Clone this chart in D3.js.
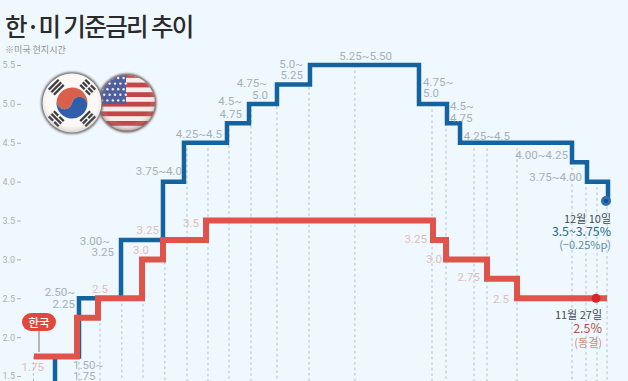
<!DOCTYPE html>
<html>
<head>
<meta charset="utf-8">
<script src="https://cdn.jsdelivr.net/npm/d3@7"></script>
<style>
  html, body { margin: 0; padding: 0; background: #eff8fe; }
  svg { display: block; }
  text { font-family: Roboto, "Noto Sans CJK KR", sans-serif; }
  .ko { font-family: "Noto Sans CJK KR", sans-serif; }
</style>
</head>
<body>
<svg width="628" height="381"></svg>
<script>
// position along the timeline (0-100), the x axis has no dates
const fedPos = [3.66, 3.66, 7.84, 15.16, 22.47, 26.13, 33.62, 37.46, 42.33, 48.08, 67.07, 71.95, 74.22, 93.73, 96.34, 100];
const fedUpper = [1.0, 1.75, 2.5, 3.25, 4.0, 4.5, 4.75, 5.0, 5.25, 5.5, 5.0, 4.75, 4.5, 4.25, 4.0, 3.75];
const krPos = [0, 7.49, 11.15, 18.82, 22.47, 29.97, 69.51, 71.78, 78.92, 84.15, 99.83];
const krRate = [1.75, 2.25, 2.5, 3.0, 3.25, 3.5, 3.25, 3.0, 2.75, 2.5, 2.5];

// dotted guides: where they sit and the rate they reach up to
const guidePos = [-0.1, 7.84, 11.5, 15.3, 18.99, 22.8, 26.65, 30.31, 33.97, 37.8, 42.33, 47.91, 55.9, 69.34, 71.78, 76.66, 78.92, 84.15, 93.73, 96.17, 98.08, 99.83];
const guideTop = [1.75, 1.75, 2.25, 2.5, 2.5, 3.25, 4.5, 4.5, 4.75, 5.0, 5.25, 5.5, 5.5, 5.0, 4.75, 4.5, 4.5, 4.5, 4.25, 4.0, 4.0, 3.75];

const yTicks = [1.5, 2.0, 2.5, 3.0, 3.5, 4.0, 4.5, 5.0, 5.5];

const fedLabels = ["1.50~", "1.75", "2.50~", "2.25", "3.00~", "3.25", "3.75~4.0", "4.25~4.5", "4.5~", "4.75", "4.75~", "5.0", "5.0~", "5.25", "5.25~5.50", "4.75~", "5.0", "4.5~", "4.75", "4.25~4.5", "4.00~4.25", "3.75~4.00"];
const krLabels = ["1.75", "2.5", "3.0", "3.25", "3.5", "3.25", "3.0", "2.75", "2.5"];

const svg = d3.select("svg");
const width = 628;
const height = 381;

const x = d3.scaleLinear().domain([0, 100]).range([34, 608]);
const y = d3.scaleLinear().domain([1.5, 5.5]).range([376, 65]);

const line = d3.line()
  .x((d) => x(d[0]))
  .y((d) => y(d[1]))
  .curve(d3.curveStepAfter);

svg.append("rect").attr("width", width).attr("height", height).attr("fill", "#eff8fe");

// title
svg.append("text").attr("class", "ko").attr("x", 5).attr("y", 36)
  .attr("font-size", 24.5).attr("font-weight", 500).attr("fill", "#2b2b2b")
  .attr("letter-spacing", -1.6)
  .text("한·미 기준금리 추이");
svg.append("text").attr("class", "ko").attr("x", 5).attr("y", 53)
  .attr("font-size", 9).attr("fill", "#8b9296").text("※미국 현지시간");

// y axis
const yAxis = d3.axisLeft(y).tickValues(yTicks).tickSize(4).tickPadding(2).tickFormat(d3.format(".1f"));
const axisG = svg.append("g").attr("transform", "translate(21,0)").call(yAxis);
axisG.select(".domain").remove();
axisG.selectAll("line").attr("stroke", "#aab3b8");
axisG.selectAll("text").attr("font-size", 9).attr("fill", "#a9b2b7").attr("font-family", "Roboto");

// guides
svg.append("g").selectAll("line")
  .data(guidePos)
  .enter()
  .append("line")
  .attr("x1", (d) => x(d))
  .attr("x2", (d) => x(d))
  .attr("y1", (d, i) => y(guideTop[i]))
  .attr("y2", height)
  .attr("stroke", "#b4bdc2")
  .attr("stroke-width", 1)
  .attr("stroke-dasharray", "2.5 3");

// flags
const defs = svg.append("defs");
defs.append("clipPath").attr("id", "usClip").append("circle").attr("cx", 127).attr("cy", 103).attr("r", 28);
const gloss = defs.append("radialGradient").attr("id", "gloss").attr("cx", "50%").attr("cy", "45%").attr("r", "55%");
gloss.append("stop").attr("offset", "75%").attr("stop-color", "#fff").attr("stop-opacity", 0);
gloss.append("stop").attr("offset", "100%").attr("stop-color", "#3a2a2a").attr("stop-opacity", 0.4);
const blur = defs.append("filter").attr("id", "soft").attr("x", "-20%").attr("y", "-20%").attr("width", "140%").attr("height", "140%");
blur.append("feGaussianBlur").attr("stdDeviation", 1.2);

const us = svg.append("g");
us.append("circle").attr("cx", 127).attr("cy", 103).attr("r", 29.5).attr("fill", "#6b5a5a").attr("filter", "url(#soft)");
const usIn = us.append("g").attr("clip-path", "url(#usClip)");
usIn.append("rect").attr("x", 98).attr("y", 74).attr("width", 58).attr("height", 58).attr("fill", "#f6ecea");
d3.range(7).forEach((i) => {
  usIn.append("rect").attr("x", 98).attr("y", 73 + i * 9.6).attr("width", 58).attr("height", 4.8)
    .attr("fill", "#c0464a");
});
usIn.append("rect").attr("x", 98).attr("y", 74).attr("width", 28).attr("height", 30).attr("fill", "#4f5f9c");
d3.range(5).forEach((r) => {
  d3.range(5).forEach((c) => {
    usIn.append("circle").attr("cx", 102 + c * 5.4 + (r % 2) * 2.2).attr("cy", 78 + r * 5.6).attr("r", 1.2).attr("fill", "#eef0f6");
  });
});
us.append("circle").attr("cx", 127).attr("cy", 103).attr("r", 28).attr("fill", "url(#gloss)");

const kr = svg.append("g");
kr.append("circle").attr("cx", 72).attr("cy", 103).attr("r", 31).attr("fill", "#6a6a6a").attr("filter", "url(#soft)");
kr.append("circle").attr("cx", 72).attr("cy", 103).attr("r", 29.5).attr("fill", "#fbf8f6");
const taegeuk = kr.append("g").attr("transform", "rotate(12 72 103)");
taegeuk.append("path").attr("fill", "#d9604c")
  .attr("d", "M56.5 103 A15.5 15.5 0 0 1 87.5 103 A7.75 7.75 0 0 0 72 103 A7.75 7.75 0 0 1 56.5 103 Z");
taegeuk.append("path").attr("fill", "#2f5fa8")
  .attr("d", "M56.5 103 A15.5 15.5 0 0 0 87.5 103 A7.75 7.75 0 0 0 72 103 A7.75 7.75 0 0 1 56.5 103 Z");
[[-45, [1, 1, 1]], [45, [2, 2, 2]], [135, [1, 2, 1]], [-135, [2, 1, 2]]].forEach(([deg, bars]) => {
  const g = kr.append("g").attr("transform", `translate(72,103) rotate(${deg})`);
  bars.forEach((n, i) => {
    const yy = -27 + i * 3.6;
    if (n === 1) {
      g.append("rect").attr("x", -7).attr("y", yy).attr("width", 14).attr("height", 2.3).attr("fill", "#3d3d40");
    } else {
      g.append("rect").attr("x", -7).attr("y", yy).attr("width", 6.2).attr("height", 2.3).attr("fill", "#3d3d40");
      g.append("rect").attr("x", 0.8).attr("y", yy).attr("width", 6.2).attr("height", 2.3).attr("fill", "#3d3d40");
    }
  });
});
kr.append("circle").attr("cx", 72).attr("cy", 103).attr("r", 29.5).attr("fill", "url(#gloss)").attr("opacity", 0.5);

// rate lines
svg.append("path")
  .datum(fedPos.map((p, i) => [p, fedUpper[i]]))
  .attr("d", line)
  .attr("fill", "none")
  .attr("stroke", "#14639f")
  .attr("stroke-width", 4.5);
svg.append("path")
  .datum(krPos.map((p, i) => [p, krRate[i]]))
  .attr("d", line)
  .attr("fill", "none")
  .attr("stroke", "#e0534a")
  .attr("stroke-width", 6);

// end dots
svg.append("circle").attr("cx", x(99.65)).attr("cy", y(3.75)).attr("r", 5).attr("fill", "#2f6fae");
svg.append("circle").attr("cx", x(99.65)).attr("cy", y(3.75)).attr("r", 2).attr("fill", "#0e4c8c");
svg.append("circle").attr("cx", x(97.91)).attr("cy", y(2.5)).attr("r", 4.5).attr("fill", "#d5262c");

// step labels, anchor x and baseline in px
const fedLabelXY = [[73, 369], [73, 380], [75, 296], [75, 308], [110, 245], [114, 256], [182, 175], [222, 138], [242, 105], [242, 118], [267, 87], [268, 99], [303, 68], [303, 79], [392, 60], [423, 86], [423, 97], [450, 110], [450, 122], [510, 140], [568, 159], [582, 181]];
const fedStart = [0, 1, 15, 16, 17, 18];
svg.append("g").selectAll("text")
  .data(fedLabels)
  .enter()
  .append("text")
  .attr("x", (d, i) => fedLabelXY[i][0])
  .attr("y", (d, i) => fedLabelXY[i][1])
  .attr("text-anchor", (d, i) => (fedStart.includes(i) ? "start" : "end"))
  .attr("font-size", 11.5)
  .attr("fill", "#a3b1ba")
  .text((d) => d);

const krLabelXY = [[44, 371], [108, 293], [149, 254], [159, 234], [199, 227], [427, 243], [442, 263], [480, 281], [509, 303]];
svg.append("g").selectAll("text")
  .data(krLabels)
  .enter()
  .append("text")
  .attr("x", (d, i) => krLabelXY[i][0])
  .attr("y", (d, i) => krLabelXY[i][1])
  .attr("text-anchor", "end")
  .attr("font-size", 11.5)
  .attr("fill", "#e2bdb8")
  .text((d) => d);

// korea badge
svg.append("line").attr("x1", 39).attr("x2", 39).attr("y1", 330).attr("y2", 352).attr("stroke", "#777");
svg.append("rect").attr("x", 22).attr("y", 313).attr("width", 34).attr("height", 18).attr("rx", 9).attr("fill", "#e0483c");
svg.append("text").attr("class", "ko").attr("x", 39).attr("y", 326.5).attr("text-anchor", "middle")
  .attr("font-size", 11.5).attr("font-weight", 500).attr("fill", "#fff").text("한국");

// end notes
const note = (xx, yy, txt, size, color) => svg.append("text").attr("class", "ko")
  .attr("x", xx).attr("y", yy).attr("text-anchor", "end")
  .attr("font-size", size).attr("fill", color).text(txt);
note(611, 223, "12월 10일", 11, "#3f4a52");
note(611, 236, "3.5~3.75%", 12.3, "#1d6b8f");
note(611, 249, "(−0.25%p)", 11, "#5c8ea6");
note(602, 319, "11월 27일", 11, "#3f4a52");
note(602, 333, "2.5%", 12.5, "#b5534c");
note(602, 347, "(동결)", 11, "#c98d84");
</script>
</body>
</html>
